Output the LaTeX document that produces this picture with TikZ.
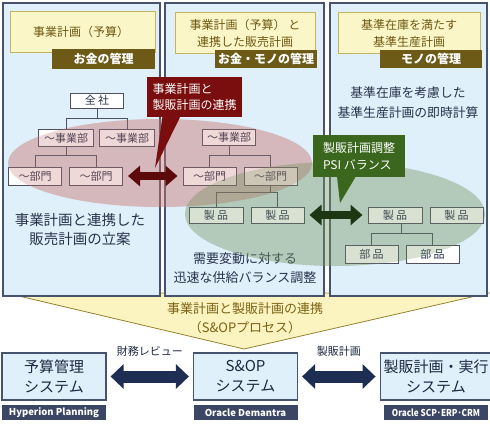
\documentclass[tikz,border=0pt]{standalone}
\usepackage{fontspec}
\setmainfont{Noto Sans CJK JP}
\usepackage{tikz}
\definecolor{panelblue}{RGB}{224,240,251}
\definecolor{panelline}{RGB}{70,82,110}
\definecolor{headyellow}{RGB}{251,246,200}
\definecolor{headline}{RGB}{196,180,96}
\definecolor{headtext}{RGB}{110,88,18}
\definecolor{tagolive}{RGB}{108,90,22}
\definecolor{boxline}{RGB}{78,80,96}
\definecolor{inktext}{RGB}{40,50,75}
\definecolor{redfog}{RGB}{200,120,115}
\definecolor{greenfog}{RGB}{120,150,100}
\definecolor{arrowred}{RGB}{92,10,10}
\definecolor{calloutred}{RGB}{122,14,14}
\definecolor{arrowgreen}{RGB}{30,54,18}
\definecolor{calloutgreen}{RGB}{58,102,30}
\definecolor{funnelyellow}{RGB}{251,243,192}
\definecolor{funnelline}{RGB}{150,130,50}
\definecolor{funneltext}{RGB}{125,98,20}
\definecolor{systext}{RGB}{30,40,65}
\definecolor{systagfill}{RGB}{58,70,100}
\definecolor{sysnavy}{RGB}{30,46,82}
\usetikzlibrary{arrows.meta, positioning, shapes}

\begin{document}
\begin{tikzpicture}[
            x=1pt, y=-1pt,
            >={Triangle[width=20pt,length=12pt]},
                panel/.style = {rectangle, draw=panelline, line width=1.2pt, fill=panelblue},
                header/.style = {rectangle, draw=headline, line width=0.6pt, fill=headyellow,
                            text=headtext, align=center, font=\fontsize{12}{17}\selectfont},
                tagbox/.style = {rectangle, fill=tagolive, text=white, inner sep=0pt,
                            font=\bfseries\fontsize{12}{14}\selectfont},
                orgbox/.style = {rectangle, draw=boxline, line width=1pt, fill=white,
                            minimum width=53pt, minimum height=17pt, inner sep=0pt,
                            text=inktext, font=\fontsize{11}{13}\selectfont},
                orgline/.style = {draw=boxline, line width=1pt},
                notetext/.style = {align=center, text=inktext},
                redcall/.style = {rectangle, fill=calloutred, text=white, align=left,
                            minimum width=95pt, minimum height=40pt, font=\fontsize{12}{16}\selectfont},
                greencall/.style = {rectangle, fill=calloutgreen, text=white, align=left,
                            minimum width=92pt, minimum height=42pt, font=\fontsize{12}{17}\selectfont},
                linkarrow/.style = {<->, line width=8pt, shorten <=5pt, shorten >=5pt},
                funnel/.style = {fill=funnelyellow, draw=funnelline, line width=0.8pt},
                sysbox/.style = {rectangle, draw=panelline, line width=1.2pt, fill=panelblue,
                            minimum width=104pt, minimum height=47pt, align=center,
                            text=systext, font=\fontsize{15}{20}\selectfont},
                systag/.style = {rectangle, fill=systagfill, text=white, minimum width=104pt,
                            minimum height=15pt, inner sep=0pt, font=\bfseries\fontsize{9.5}{12}\selectfont},
                sysarrow/.style = {{Triangle[width=24pt,length=13pt]}-{Triangle[width=24pt,length=13pt]},
                            draw=sysnavy, line width=12pt, shorten <=4pt, shorten >=4pt},
                arrowlabel/.style = {text=systext, font=\fontsize{11}{13}\selectfont},
            node distance=36pt]
            \useasboundingbox (0,0) rectangle (490,424);
            % funnel behind the panels
            \coordinate (FunnelLeft) at (6,293);
            \coordinate (FunnelRight) at (489,293);
            \coordinate (FunnelTip) at (244,349);
            \draw[funnel] (FunnelLeft) -- (FunnelRight) -- (FunnelTip) -- cycle;
            \node (SOPProcess) [text=funneltext, align=center, font=\fontsize{13}{19}\selectfont] at (245,318) {
                事業計画と製販計画の連携\\（S\&OPプロセス）
            };
            % three panels
            \node (BudgetPanel) [panel, minimum width=157pt, minimum height=293pt] at (81.5,149.5) {};
            \node (SalesPanel) [panel, minimum width=159pt, minimum height=293pt] at (244.5,149.5) {};
            \node (StockPanel) [panel, minimum width=157pt, minimum height=293pt] at (408.5,149.5) {};
            \node (BudgetHead) [header, minimum width=145pt, minimum height=41pt] at (82.5,32) {
                事業計画（予算）
            };
            \node (BudgetTag) [tagbox, minimum width=103pt, minimum height=20pt] at (103.5,59) {
                お金の管理
            };
            \node (SalesHead) [header, minimum width=140pt, minimum height=41pt] at (245,33) {
                事業計画（予算） と\\連携した販売計画
            };
            \node (SalesTag) [tagbox, minimum width=102pt, minimum height=18pt] at (266,59) {
                お金・モノの管理
            };
            \node (StockHead) [header, minimum width=142pt, minimum height=41pt] at (409,33) {
                基準在庫を満たす\\基準生産計画
            };
            \node (StockTag) [tagbox, minimum width=102pt, minimum height=18pt] at (431,59) {
                モノの管理
            };
            \node (BudgetNote) [notetext, font=\fontsize{14.5}{19}\selectfont] at (80,229.5) {
                事業計画と連携した\\販売計画の立案
            };
            \node (SalesNote) [notetext, font=\fontsize{13}{19}\selectfont] at (245,268) {
                需要変動に対する\\迅速な供給バランス調整
            };
            \node (StockNote) [notetext, font=\fontsize{12.8}{20}\selectfont] at (408,103) {
                基準在庫を考慮した\\基準生産計画の即時計算
            };
            % fog under the charts
            \fill[redfog, fill opacity=0.25] (160,163) ellipse [x radius=152pt, y radius=44pt];
            \fill[greenfog, fill opacity=0.2] (335,214) ellipse [x radius=150pt, y radius=52pt];
            % org chart, budget panel
            \node (Zensha) [orgbox, minimum height=15pt] at (97,100.5) {全 社};
            \node (JigyoubuA) [orgbox, minimum width=55pt] at (66,138) {～事業部};
            \node (JigyoubuB) [orgbox, minimum width=55pt] at (127,138) {～事業部};
            \node (BumonA) [orgbox, minimum height=18pt] at (35,176) {～部門};
            \node (BumonB) [orgbox, minimum height=18pt] at (96,176) {～部門};
            \draw[orgline] (Zensha.south) -- ++(0,10) -| (JigyoubuA.north);
            \draw[orgline] (Zensha.south) -- ++(0,10) -| (JigyoubuB.north);
            \draw[orgline] (JigyoubuA.south) -- ++(0,8.5) -| (BumonA.north);
            \draw[orgline] (JigyoubuA.south) -- ++(0,8.5) -| (BumonB.north);
            % org chart, sales panel
            \node (SalesJigyoubu) [orgbox, minimum height=16pt] at (229,137.5) {～事業部};
            \node (SalesBumonA) [orgbox, minimum height=18pt] at (209.5,176) {～部門};
            \node (SalesBumonB) [orgbox, minimum height=18pt] at (270.5,176) {～部門};
            \node (SalesSeihinA) [orgbox, minimum width=54pt, minimum height=16pt] at (216,215) {製 品};
            \node (SalesSeihinB) [orgbox, minimum height=16pt] at (277.5,215) {製 品};
            \draw[orgline] (SalesJigyoubu.south) -- ++(0,9.5) -| (SalesBumonA.north);
            \draw[orgline] (SalesJigyoubu.south) -- ++(0,9.5) -| (SalesBumonB.north);
            \draw[orgline] (SalesBumonB.south) -- ++(0,7) -| (SalesSeihinA.north);
            \draw[orgline] (SalesBumonB.south) -- ++(0,7) -| (SalesSeihinB.north);
            % org chart, stock panel
            \node (StockSeihinA) [orgbox, minimum width=54pt, minimum height=16pt] at (395,215) {製 品};
            \node (StockSeihinB) [orgbox, minimum height=16pt] at (456.5,215) {製 品};
            \node (BuhinA) [orgbox, minimum height=18pt] at (371.5,254) {部 品};
            \node (BuhinB) [orgbox, minimum height=18pt] at (432.5,254) {部 品};
            \draw[orgline] ([xshift=6pt]StockSeihinA.south) -- ++(0,10) -| (BuhinA.north);
            \draw[orgline] ([xshift=6pt]StockSeihinA.south) -- ++(0,10) -| (BuhinB.north);
            % fog over the charts
            \fill[redfog, fill opacity=0.28] (160,163) ellipse [x radius=152pt, y radius=44pt];
            \fill[greenfog, fill opacity=0.28] (335,214) ellipse [x radius=150pt, y radius=52pt];
            % links between panels
            \draw[linkarrow, draw=arrowred] (BumonB.east) -- (SalesBumonA.west);
            \draw[linkarrow, draw=arrowgreen] (SalesSeihinB.east) -- (StockSeihinA.west);
            \node (RedNote) [redcall] at (194.5,97) {
                事業計画と\\製販計画の連携
            };
            \coordinate (RedTip) at (155,168);
            \fill[calloutred] ([xshift=-32pt,yshift=1pt]RedNote.south) -- ([xshift=-14pt,yshift=1pt]RedNote.south) -- (RedTip) -- cycle;
            \node (GreenNote) [greencall] at (359,156) {
                製販計画調整\\PSI バランス
            };
            \coordinate (GreenTip) at (340,203);
            \fill[calloutgreen] ([xshift=-22pt,yshift=1pt]GreenNote.south) -- ([xshift=-3pt,yshift=1pt]GreenNote.south) -- (GreenTip) -- cycle;
            % systems
            \node (Yosan) [sysbox] at (54,376.5) {予算管理\\システム};
            \node (SOP) [sysbox] at (245.5,376.5) {S\&OP\\システム};
            \node (Seihan) [sysbox] at (436,376.5) {製販計画・実行\\システム};
            \node (Hyperion) [systag, below of=Yosan] {Hyperion Planning};
            \node (Demantra) [systag, below of=SOP] {Oracle Demantra};
            \node (OracleSCP) [systag, below of=Seihan] {\scalebox{0.86}[1]{Oracle SCP･ERP･CRM}};
            \draw[sysarrow] (Yosan) -- node[arrowlabel, above=11pt] {財務レビュー} (SOP);
            \draw[sysarrow] (SOP) -- node[arrowlabel, above=11pt] {製販計画} (Seihan);
        \end{tikzpicture}
\end{document}
